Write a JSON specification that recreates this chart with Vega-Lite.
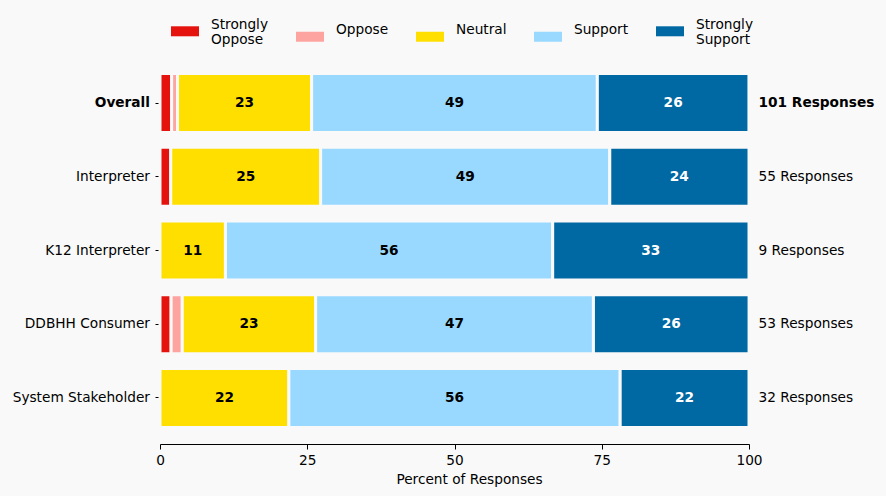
{
  "$schema": "https://vega.github.io/schema/vega-lite/v6.json",
  "width": 589,
  "height": 387,
  "autosize": {"type": "none"},
  "padding": {"left": 160, "top": 57, "right": 137, "bottom": 52},
  "background": "#f9f9f9",
  "config": {
    "view": {"stroke": null},
    "font": "DejaVu Sans",
    "text": {"font": "DejaVu Sans"},
    "axis": {
      "labelFont": "DejaVu Sans",
      "titleFont": "DejaVu Sans",
      "labelColor": "black",
      "titleColor": "black",
      "tickColor": "black",
      "domainColor": "black",
      "labelFontSize": 13.7,
      "titleFontSize": 13.7,
      "titleFontWeight": "normal",
      "grid": false,
      "tickSize": 5
    }
  },
  "datasets": {
    "bars": [
      {"group": "Overall", "category": "Strongly Oppose", "order": 1, "pct": 1.98},
      {"group": "Overall", "category": "Oppose", "order": 2, "pct": 0.99},
      {"group": "Overall", "category": "Neutral", "order": 3, "pct": 22.77},
      {"group": "Overall", "category": "Support", "order": 4, "pct": 48.51},
      {"group": "Overall", "category": "Strongly Support", "order": 5, "pct": 25.74},
      {"group": "Interpreter", "category": "Strongly Oppose", "order": 1, "pct": 1.82},
      {"group": "Interpreter", "category": "Neutral", "order": 3, "pct": 25.45},
      {"group": "Interpreter", "category": "Support", "order": 4, "pct": 49.09},
      {"group": "Interpreter", "category": "Strongly Support", "order": 5, "pct": 23.64},
      {"group": "K12 Interpreter", "category": "Neutral", "order": 3, "pct": 11.11},
      {"group": "K12 Interpreter", "category": "Support", "order": 4, "pct": 55.56},
      {"group": "K12 Interpreter", "category": "Strongly Support", "order": 5, "pct": 33.33},
      {"group": "DDBHH Consumer", "category": "Strongly Oppose", "order": 1, "pct": 1.89},
      {"group": "DDBHH Consumer", "category": "Oppose", "order": 2, "pct": 1.89},
      {"group": "DDBHH Consumer", "category": "Neutral", "order": 3, "pct": 22.64},
      {"group": "DDBHH Consumer", "category": "Support", "order": 4, "pct": 47.17},
      {"group": "DDBHH Consumer", "category": "Strongly Support", "order": 5, "pct": 26.42},
      {"group": "System Stakeholder", "category": "Neutral", "order": 3, "pct": 21.88},
      {"group": "System Stakeholder", "category": "Support", "order": 4, "pct": 56.25},
      {"group": "System Stakeholder", "category": "Strongly Support", "order": 5, "pct": 21.87}
    ],
    "totals": [
      {"group": "Overall", "label": "101 Responses"},
      {"group": "Interpreter", "label": "55 Responses"},
      {"group": "K12 Interpreter", "label": "9 Responses"},
      {"group": "DDBHH Consumer", "label": "53 Responses"},
      {"group": "System Stakeholder", "label": "32 Responses"}
    ]
  },
  "layer": [
    {
      "data": {"name": "bars"},
      "transform": [
        {"stack": "pct", "groupby": ["group"], "sort": [{"field": "order"}], "as": ["x0", "x1"]}
      ],
      "mark": {"type": "bar", "stroke": "#f9f9f9", "strokeWidth": 3},
      "encoding": {
        "y": {
          "field": "group", "type": "nominal",
          "sort": ["Overall", "Interpreter", "K12 Interpreter", "DDBHH Consumer", "System Stakeholder"],
          "scale": {"paddingInner": 0.2, "paddingOuter": 0.225},
          "axis": {
            "title": null, "domain": false, "labelPadding": 5.5,
            "labelFontWeight": {"expr": "datum.value == 'Overall' ? 'bold' : 'normal'"}
          }
        },
        "x": {
          "field": "x0", "type": "quantitative",
          "scale": {"domain": [0, 100], "nice": false},
          "axis": {"title": "Percent of Responses", "values": [0, 25, 50, 75, 100], "labelFlush": false, "labelPadding": 4, "titlePadding": 6, "titleX": 309, "titleAlign": "center"}
        },
        "x2": {"field": "x1"},
        "color": {
          "field": "category", "type": "nominal",
          "scale": {
            "domain": ["Strongly Oppose", "Oppose", "Neutral", "Support", "Strongly Support"],
            "range": ["#e4130e", "#fda4a0", "#ffdf00", "#99d9ff", "#0068a2"]
          },
          "legend": {
            "orient": "none", "legendX": 11, "legendY": -46.5,
            "direction": "horizontal", "title": null,
            "symbolType": "M-1,0.107H1V0.821H-1Z", "symbolSize": 784,
            "symbolStrokeWidth": 0, "symbolOpacity": 1,
            "labelOffset": 12, "columnPadding": 27, "padding": 0,
            "labelFont": "DejaVu Sans", "labelFontSize": 13.7, "labelColor": "black",
            "labelLimit": 0,
            "labelExpr": "split(datum.label, ' ')"
          }
        }
      }
    },
    {
      "data": {"name": "bars"},
      "transform": [
        {"stack": "pct", "groupby": ["group"], "sort": [{"field": "order"}], "as": ["x0", "x1"]},
        {"filter": "datum.pct >= 5"},
        {"calculate": "(datum.x0 + datum.x1) / 2", "as": "mid"}
      ],
      "mark": {"type": "text", "fontWeight": "bold", "fontSize": 13.7, "font": "DejaVu Sans", "baseline": "middle", "align": "center"},
      "encoding": {
        "y": {"field": "group", "type": "nominal", "sort": ["Overall", "Interpreter", "K12 Interpreter", "DDBHH Consumer", "System Stakeholder"]},
        "x": {"field": "mid", "type": "quantitative"},
        "text": {"field": "pct", "type": "quantitative", "format": ".0f"},
        "color": {"condition": {"test": "datum.category == 'Strongly Support'", "value": "white"}, "value": "black"}
      }
    },
    {
      "data": {"name": "totals"},
      "mark": {
        "type": "text", "align": "left", "baseline": "middle", "dx": 9.5,
        "fontSize": 13.7, "font": "DejaVu Sans", "color": "black",
        "fontWeight": {"expr": "datum.group == 'Overall' ? 'bold' : 'normal'"}
      },
      "encoding": {
        "y": {"field": "group", "type": "nominal", "sort": ["Overall", "Interpreter", "K12 Interpreter", "DDBHH Consumer", "System Stakeholder"]},
        "x": {"datum": 100, "type": "quantitative"},
        "text": {"field": "label"}
      }
    }
  ]
}
